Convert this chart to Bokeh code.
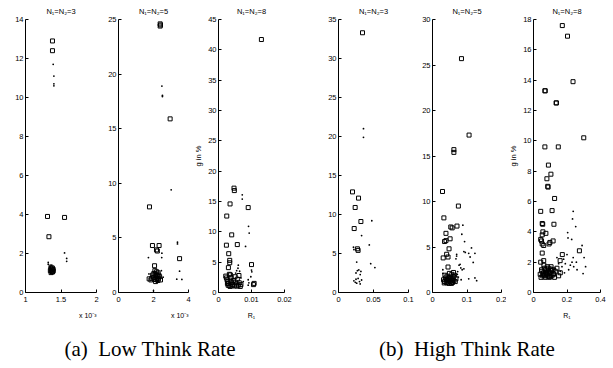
from bokeh.plotting import figure
from bokeh.layouts import row, column
from bokeh.models import Range1d, FixedTicker, NumeralTickFormatter, Title, Div, Spacer
from bokeh.embed import file_html
from bokeh.resources import INLINE

# ---------------- data ----------------
titles = ["N\u2081=N\u2082=3", "N\u2081=N\u2082=5", "N\u2081=N\u2082=8",
          "N\u2081=N\u2082=3", "N\u2081=N\u2082=5", "N\u2081=N\u2082=8"]

# (a) Low think rate, N=3  (R1 in units of 1e-3)
sq_x1 = [1.38, 1.38, 1.31, 1.55, 1.33, 1.36, 1.38, 1.39, 1.35, 1.37, 1.36, 1.38, 1.37, 1.36, 1.39]
sq_y1 = [12.9, 12.4, 3.9, 3.85, 2.86, 1.30, 1.25, 1.18, 1.12, 1.08, 1.02, 1.05, 1.15, 1.22, 1.10]
dot_x1 = [1.39, 1.40, 1.40, 1.40, 1.55, 1.58, 1.58, 1.32, 1.32, 1.34, 1.36]
dot_y1 = [11.7, 11.1, 10.7, 10.6, 2.03, 1.75, 1.6, 1.55, 1.45, 1.3, 1.4]

# (a) N=5 (R1 in units of 1e-3)
sq_x2 = [2.38, 2.38, 2.40, 2.95, 1.77, 1.94, 2.32, 2.17, 2.22, 2.06, 3.49, 1.75, 1.85, 1.95, 2.0, 2.05,
         2.1, 2.15, 2.2, 2.25, 2.3, 2.12, 2.18, 2.08, 2.28, 2.4, 2.35, 1.9, 2.02, 2.22, 2.14, 2.26]
sq_y2 = [24.6, 24.4, 24.5, 15.9, 7.84, 4.3, 4.3, 3.9, 3.8, 2.45, 3.1, 1.25, 1.15, 1.6, 1.4, 1.2,
         1.7, 1.5, 1.3, 1.1, 1.6, 1.0, 1.9, 2.0, 1.25, 1.15, 1.45, 1.3, 1.75, 1.55, 1.2, 1.8]
dot_x2 = [2.48, 2.51, 2.51, 3.01, 3.37, 3.37, 2.48, 2.47, 1.71, 3.49, 3.33, 3.62, 2.0, 1.74, 2.55, 2.45]
dot_y2 = [18.9, 18.05, 17.95, 9.4, 4.6, 4.45, 3.6, 3.2, 3.2, 1.95, 1.22, 1.2, 0.15, 1.7, 1.4, 2.0]

# (a) N=8
sq_x3 = [0.0130, 0.0047, 0.0048, 0.0035, 0.0090, 0.0025, 0.0040, 0.0057, 0.0024, 0.0031, 0.0034, 0.0034,
         0.0030, 0.0100, 0.0108, 0.0106, 0.0062, 0.0022, 0.0024, 0.0026, 0.0028, 0.0030, 0.0032, 0.0035,
         0.0038, 0.0040, 0.0043, 0.0046, 0.0048, 0.0051, 0.0054, 0.0057, 0.0060, 0.0063, 0.0066, 0.0033,
         0.0036, 0.0029, 0.0041, 0.0055, 0.0068, 0.0050, 0.0027, 0.0037]
sq_y3 = [41.7, 17.2, 16.8, 14.6, 14.0, 12.6, 9.5, 7.9, 7.8, 6.4, 5.3, 4.9,
         4.1, 4.6, 1.5, 1.3, 2.8, 2.7, 2.4, 2.1, 1.8, 1.5, 1.2, 1.0,
         2.5, 1.6, 1.3, 2.0, 1.1, 1.7, 1.4, 2.2, 1.2, 1.6, 1.0, 3.0,
         2.9, 1.2, 1.1, 1.05, 1.3, 2.6, 1.5, 1.9]
dot_x3 = [0.0072, 0.0072, 0.0091, 0.0093, 0.0082, 0.0060, 0.0059, 0.0064, 0.0100, 0.0101, 0.0090, 0.0092,
          0.0090, 0.0098, 0.0052, 0.0068, 0.0055, 0.0075]
dot_y3 = [16.1, 15.4, 10.9, 9.8, 7.6, 4.5, 4.0, 3.5, 3.7, 3.4, 2.1, 1.6,
          1.2, 2.6, 3.2, 2.4, 3.6, 1.8]

# (b) High think rate, N=3
sq_x4 = [0.0343, 0.020, 0.0286, 0.0238, 0.032, 0.0224, 0.027, 0.028]
sq_y4 = [33.3, 12.9, 12.1, 10.9, 9.1, 8.2, 5.6, 5.4]
dot_x4 = [0.0357, 0.0357, 0.0476, 0.033, 0.044, 0.0214, 0.022, 0.026, 0.046, 0.052, 0.027, 0.025,
          0.032, 0.031, 0.025, 0.028, 0.022, 0.030, 0.033, 0.026, 0.031, 0.029, 0.024]
dot_y4 = [21.0, 19.9, 9.2, 7.3, 6.1, 5.8, 5.5, 3.9, 3.7, 3.2, 2.8, 2.5,
          2.7, 2.3, 1.7, 1.8, 1.5, 1.4, 1.6, 1.2, 1.1, 2.9, 1.3]

# (b) N=5
sq_x5 = [0.084, 0.106, 0.062, 0.062, 0.029, 0.033, 0.075, 0.039, 0.053, 0.057, 0.071, 0.051, 0.039, 0.035,
         0.048, 0.041, 0.031, 0.045, 0.045, 0.032, 0.035, 0.038, 0.040, 0.042, 0.044, 0.046, 0.048, 0.050,
         0.052, 0.054, 0.056, 0.058, 0.060, 0.062, 0.064, 0.066, 0.036, 0.041, 0.047, 0.053, 0.059, 0.043,
         0.034, 0.055, 0.068, 0.061, 0.049]
sq_y5 = [25.7, 17.3, 15.7, 15.4, 11.1, 8.2, 9.5, 6.5, 7.2, 7.1, 7.3, 5.9, 5.7, 5.6,
         4.8, 4.2, 3.8, 3.9, 2.8, 1.4, 1.2, 1.6, 1.1, 1.8, 1.3, 1.5, 1.0, 1.7,
         1.2, 1.4, 2.0, 1.1, 1.6, 1.3, 1.9, 1.2, 1.9, 1.45, 1.25, 1.55, 1.35, 1.05,
         1.05, 1.0, 1.5, 2.2, 2.1]
dot_x5 = [0.088, 0.085, 0.093, 0.113, 0.091, 0.095, 0.105, 0.123, 0.109, 0.118, 0.070, 0.070, 0.068, 0.077,
          0.082, 0.086, 0.073, 0.091, 0.066, 0.075, 0.105, 0.123, 0.128, 0.030, 0.030, 0.080, 0.072, 0.083]
dot_y5 = [7.4, 6.4, 5.6, 4.9, 4.5, 4.4, 4.3, 4.3, 3.9, 3.3, 4.2, 4.0, 3.7, 3.0,
          2.7, 2.5, 2.3, 2.6, 1.9, 1.7, 1.5, 1.6, 1.3, 2.5, 2.1, 3.1, 2.0, 1.4]

# (b) N=8
sq_x6 = [0.172, 0.203, 0.236, 0.068, 0.070, 0.135, 0.137, 0.300, 0.068, 0.148, 0.089, 0.104, 0.080, 0.085,
         0.087, 0.126, 0.043, 0.111, 0.052, 0.055, 0.122, 0.056, 0.074, 0.052, 0.043, 0.048, 0.052, 0.061,
         0.093, 0.098, 0.117, 0.052, 0.043, 0.061, 0.172, 0.159, 0.274,
         0.040, 0.045, 0.050, 0.055, 0.060, 0.065, 0.070, 0.075, 0.080, 0.085, 0.090, 0.095, 0.100, 0.105,
         0.110, 0.115, 0.120, 0.125, 0.130, 0.140, 0.150, 0.160, 0.048, 0.058, 0.068, 0.078, 0.088, 0.098,
         0.108, 0.118, 0.062, 0.082, 0.092, 0.072, 0.102]
sq_y6 = [17.6, 16.9, 13.9, 13.3, 13.3, 12.5, 12.5, 10.2, 9.6, 9.6, 8.4, 7.8, 7.5, 7.0,
         6.95, 6.2, 5.35, 5.4, 4.55, 4.5, 4.5, 4.0, 3.9, 3.8, 3.5, 3.4, 3.2, 3.1,
         3.2, 3.3, 3.4, 2.6, 2.0, 2.1, 2.5, 2.1, 2.75,
         1.2, 1.0, 1.4, 1.1, 1.3, 1.6, 1.0, 1.5, 1.2, 1.1, 1.4, 1.0, 1.3, 1.7,
         1.1, 1.5, 1.2, 1.0, 1.4, 1.6, 1.1, 1.3, 1.5, 1.2, 1.1, 1.3, 1.6, 1.15,
         1.45, 1.25, 1.8, 1.7, 1.05, 1.35, 1.55]
dot_x6 = [0.237, 0.233, 0.252, 0.204, 0.206, 0.228, 0.290, 0.302, 0.237, 0.311, 0.296, 0.256, 0.200, 0.180,
          0.190, 0.220, 0.170, 0.210, 0.160, 0.240, 0.260, 0.150, 0.140, 0.230, 0.185, 0.130]
dot_y6 = [5.35, 4.85, 4.35, 3.95, 3.6, 3.5, 3.1, 2.3, 2.3, 1.7, 1.25, 2.0, 2.5, 2.2,
          1.9, 1.8, 1.7, 1.5, 1.4, 1.7, 1.5, 1.9, 2.3, 2.0, 1.3, 1.6]

x_ranges = [(1, 2), (0, 4), (0, 0.02), (0, 0.1), (0, 0.2), (0, 0.4)]
y_ranges = [(0, 14), (0, 25), (0, 45), (0, 35), (0, 30), (0, 18)]
x_ticks = [[1, 1.5, 2], [0, 2, 4], [0, 0.01, 0.02], [0, 0.05, 0.1], [0, 0.1, 0.2], [0, 0.2, 0.4]]
y_ticks = [list(range(0, 15, 2)), list(range(0, 26, 5)), list(range(0, 46, 5)),
           list(range(0, 36, 5)), list(range(0, 31, 5)), list(range(0, 19, 2))]
x_notes = ["x 10\u207b\u00b3", "x 10\u207b\u00b3", "R\u2081", None, None, "R\u2081"]
y_labels = [None, None, "g in %", None, None, "g in %"]
captions = ["(a)&nbsp;&nbsp;Low Think Rate", "(b)&nbsp;&nbsp;High Think Rate"]

squares = [(sq_x1, sq_y1), (sq_x2, sq_y2), (sq_x3, sq_y3), (sq_x4, sq_y4), (sq_x5, sq_y5), (sq_x6, sq_y6)]
dots = [(dot_x1, dot_y1), (dot_x2, dot_y2), (dot_x3, dot_y3), (dot_x4, dot_y4), (dot_x5, dot_y5), (dot_x6, dot_y6)]

# ---------------- layout (pixels) ----------------
FIG_H = 335
widths = [103, 88, 101, 123, 91, 100]
b_left = [25, 15, 22, 46, 17, 21]
b_right = [7, 3, 8, 7, 5, 6]
b_top = [19, 19, 19, 17, 17, 17]
FONT = "Liberation Sans"

figs = []
for i in range(6):
    p = figure(width=widths[i], height=FIG_H, x_range=Range1d(*x_ranges[i]), y_range=Range1d(*y_ranges[i]),
               output_backend="svg", toolbar_location=None,
               min_border_left=b_left[i], min_border_right=b_right[i],
               min_border_top=b_top[i], min_border_bottom=43)
    p.outline_line_color = None
    p.grid.visible = False
    p.title.text = titles[i]
    p.title.align = "center"
    p.title.text_font = FONT
    p.title.text_font_size = "7.5px"
    p.title.text_font_style = "normal"
    p.title.text_color = "black"
    p.title.standoff = 7
    for ax, ticks in ((p.xaxis[0], x_ticks[i]), (p.yaxis[0], y_ticks[i])):
        ax.ticker = FixedTicker(ticks=ticks, minor_ticks=[])
        ax.formatter = NumeralTickFormatter(format="0.[00]")
        ax.major_tick_in = 3
        ax.major_tick_out = 0
        ax.minor_tick_in = 0
        ax.minor_tick_out = 0
        ax.axis_line_color = "black"
        ax.major_tick_line_color = "black"
        ax.major_label_text_font = FONT
        ax.major_label_text_font_size = "7.5px"
        ax.major_label_text_color = "black"
    p.xaxis.major_label_standoff = 4
    p.yaxis.major_label_standoff = 2
    if y_labels[i]:
        p.yaxis.axis_label = y_labels[i]
        p.yaxis.axis_label_text_font = FONT
        p.yaxis.axis_label_text_font_size = "7.5px"
        p.yaxis.axis_label_text_font_style = "normal"
        p.yaxis.axis_label_text_color = "black"
        p.yaxis.axis_label_standoff = 2
    if x_notes[i]:
        p.add_layout(Title(text=x_notes[i], align="right" if i < 2 else "center",
                           text_font=FONT, text_font_size="7px", text_font_style="normal",
                           text_color="black", standoff=11), "below")
    sx, sy = squares[i]
    dx, dy = dots[i]
    p.scatter(sx, sy, marker="square", size=4, fill_color=None, line_color="black", line_width=1)
    p.scatter(dx, dy, marker="circle", size=1.8, fill_color="black", line_color=None)
    figs.append(p)

cap_style = {"font-family": "Liberation Serif", "font-size": "21px", "line-height": "29px",
             "text-align": "center", "color": "black", "white-space": "nowrap"}
div_a = Div(text=captions[0], width=200, height=29, margin=0, styles=cap_style)
div_b = Div(text=captions[1], width=200, height=29, margin=0, styles=cap_style)
cap_row = row(Spacer(width=50, height=29, margin=0), div_a, Spacer(width=117, height=29, margin=0), div_b)

layout = column(row(*figs), cap_row)

open("out.html", "w").write(file_html(layout, INLINE))
